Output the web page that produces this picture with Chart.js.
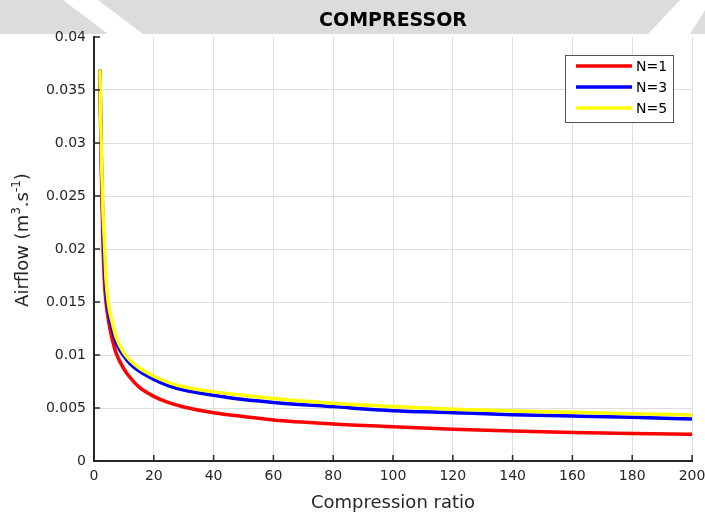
<!DOCTYPE html>
<html>
<head>
<meta charset="utf-8">
<script src="https://cdn.jsdelivr.net/npm/chart.js@4"></script>
<style>
  html, body { margin: 0; padding: 0; background: #fff; }
</style>
</head>
<body>
<canvas id="compressorChart" width="705" height="515"></canvas>
<script>
// compression ratio (x) shared by every curve
const ratio = [2, 2.3, 2.6, 3, 3.5, 4, 5, 6, 7.5, 10, 12, 15, 20, 25, 30, 40, 50, 60, 80, 100, 120, 140, 160, 180, 200];

// airflow, m3/s
const airflowN1 = [0.0368, 0.0300, 0.0255, 0.0205, 0.0168, 0.0150, 0.0130, 0.0116, 0.0101, 0.0087, 0.0079, 0.0070, 0.0061, 0.0055, 0.0051, 0.00455, 0.0042, 0.00387, 0.0035, 0.00324, 0.0030, 0.00283, 0.0027, 0.0026, 0.00252];
const airflowN3 = [0.0368, 0.0310, 0.0265, 0.0225, 0.0185, 0.0160, 0.0138, 0.0126, 0.0111, 0.0099, 0.0092, 0.0085, 0.0077, 0.0071, 0.0067, 0.0062, 0.0058, 0.00553, 0.00513, 0.00475, 0.00456, 0.00437, 0.00425, 0.00412, 0.00396];
const airflowN5 = [0.0368, 0.0315, 0.0275, 0.0235, 0.0205, 0.0172, 0.0145, 0.0132, 0.0116, 0.0102, 0.0095, 0.0088, 0.0080, 0.0074, 0.0070, 0.00652, 0.0062, 0.0059, 0.00544, 0.00513, 0.00488, 0.00472, 0.0046, 0.00446, 0.00434];

const seriesLabels = ["N=1", "N=3", "N=5"];
const xTicks = [0, 20, 40, 60, 80, 100, 120, 140, 160, 180, 200];
const yTicks = ["0", "0.005", "0.01", "0.015", "0.02", "0.025", "0.03", "0.035", "0.04"];

const FONT = "'DejaVu Sans', 'Liberation Sans', Arial, sans-serif";
const INK = "#262626";

function points(ys) {
    return ratio.map((x, i) => ({ x: x, y: ys[i] }));
}

// grey watermark band behind the title
const backdrop = {
    id: "backdrop",
    beforeDraw(chart) {
        const c = chart.ctx;
        c.save();
        c.fillStyle = "#fff";
        c.fillRect(0, 0, chart.width, chart.height);
        c.fillStyle = "#dcdcdc";
        c.beginPath();
        c.moveTo(0, 0); c.lineTo(63, 0); c.lineTo(108, 34); c.lineTo(0, 34);
        c.closePath(); c.fill();
        c.beginPath();
        c.moveTo(98, 0); c.lineTo(680, 0); c.lineTo(648, 34); c.lineTo(143, 34);
        c.closePath(); c.fill();
        c.beginPath();
        c.moveTo(705, 10); c.lineTo(705, 34); c.lineTo(690, 34);
        c.closePath(); c.fill();
        c.restore();
    }
};

// title, y label with superscripts, inward ticks and boxed legend
const decorations = {
    id: "decorations",
    afterDraw(chart) {
        const c = chart.ctx;
        const area = chart.chartArea;
        const xs = chart.scales.x, ys = chart.scales.y;
        c.save();

        c.fillStyle = "#000";
        c.font = "bold 19px " + FONT;
        c.textAlign = "center";
        c.textBaseline = "middle";
        c.fillText("COMPRESSOR", (area.left + area.right) / 2, 21);

        // y axis label, rotated, with raised exponents
        const parts = [
            { t: "Airflow (m", s: 18, up: 0 },
            { t: "3", s: 12, up: 8 },
            { t: ".s", s: 18, up: 0 },
            { t: "-1", s: 12, up: 8 },
            { t: ")", s: 18, up: 0 }
        ];
        let total = 0;
        parts.forEach(p => { c.font = p.s + "px " + FONT; p.w = c.measureText(p.t).width; total += p.w; });
        c.translate(28, 240);
        c.rotate(-Math.PI / 2);
        c.fillStyle = INK;
        c.textAlign = "left";
        c.textBaseline = "alphabetic";
        let px = -total / 2;
        parts.forEach(p => {
            c.font = p.s + "px " + FONT;
            c.fillText(p.t, px, -p.up);
            px += p.w;
        });
        c.setTransform(1, 0, 0, 1, 0, 0);

        c.strokeStyle = INK;
        c.lineWidth = 1.5;
        c.beginPath();
        xs.ticks.forEach(t => {
            const tx = xs.getPixelForValue(t.value);
            c.moveTo(tx, area.bottom); c.lineTo(tx, area.bottom - 6);
        });
        ys.ticks.forEach(t => {
            const ty = ys.getPixelForValue(t.value);
            c.moveTo(area.left, ty); c.lineTo(area.left + 6, ty);
        });
        c.stroke();

        const bx = 565, by = 55, bw = 108, bh = 67;
        c.fillStyle = "#fff";
        c.fillRect(bx, by, bw, bh);
        c.strokeStyle = "#555";
        c.lineWidth = 1;
        c.strokeRect(bx + 0.5, by + 0.5, bw, bh);
        c.font = "14px " + FONT;
        c.textAlign = "left";
        c.textBaseline = "middle";
        chart.data.datasets.forEach((ds, i) => {
            const ry = by + 11 + i * 21;
            c.strokeStyle = ds.borderColor;
            c.lineWidth = 3.5;
            c.beginPath();
            c.moveTo(bx + 11, ry); c.lineTo(bx + 67, ry);
            c.stroke();
            c.fillStyle = "#000";
            c.fillText(ds.label, bx + 71, ry + 1);
        });
        c.restore();
    }
};

new Chart(document.getElementById("compressorChart"), {
    type: "line",
    data: {
        datasets: [
            { label: seriesLabels[0], data: points(airflowN1), borderColor: "#ff0000", order: 3 },
            { label: seriesLabels[1], data: points(airflowN3), borderColor: "#0000ff", order: 2 },
            { label: seriesLabels[2], data: points(airflowN5), borderColor: "#ffff00", order: 1 }
        ]
    },
    options: {
        responsive: false,
        animation: false,
        devicePixelRatio: 1,
        parsing: false,
        layout: { padding: { top: 37, right: 13, left: 0, bottom: 0 } },
        elements: {
            point: { radius: 0 },
            line: { borderWidth: 3.5, cubicInterpolationMode: "monotone", fill: false, borderCapStyle: "round" }
        },
        plugins: {
            legend: { display: false },
            title: { display: false },
            tooltip: { enabled: false }
        },
        scales: {
            x: {
                type: "linear",
                min: 0,
                max: 200,
                afterBuildTicks: s => { s.ticks = xTicks.map(v => ({ value: v })); },
                afterFit: s => { s.height = 54; s.paddingLeft = 0; s.paddingRight = 0; },
                ticks: {
                    color: INK,
                    font: { family: FONT, size: 14 },
                    padding: 7,
                    maxRotation: 0,
                    callback: v => String(v)
                },
                grid: { color: "#dedede", lineWidth: 1, drawTicks: false },
                border: { color: INK, width: 2 },
                title: {
                    display: true,
                    text: "Compression ratio",
                    color: INK,
                    font: { family: FONT, size: 18 },
                    padding: { top: 0, bottom: 1 }
                }
            },
            y: {
                min: 0,
                max: 0.04,
                afterBuildTicks: s => { s.ticks = yTicks.map(v => ({ value: parseFloat(v) })); },
                afterFit: s => { s.width = 94; s.paddingTop = 0; s.paddingBottom = 0; },
                ticks: {
                    color: INK,
                    font: { family: FONT, size: 14 },
                    padding: 8,
                    callback: (v, i) => yTicks[i]
                },
                grid: {
                    color: ctx => (ctx.tick && ctx.tick.value >= 0.04 ? "rgba(0,0,0,0)" : "#dedede"),
                    lineWidth: 1,
                    drawTicks: false
                },
                border: { color: INK, width: 2 }
            }
        }
    },
    plugins: [backdrop, decorations]
});
</script>
</body>
</html>
